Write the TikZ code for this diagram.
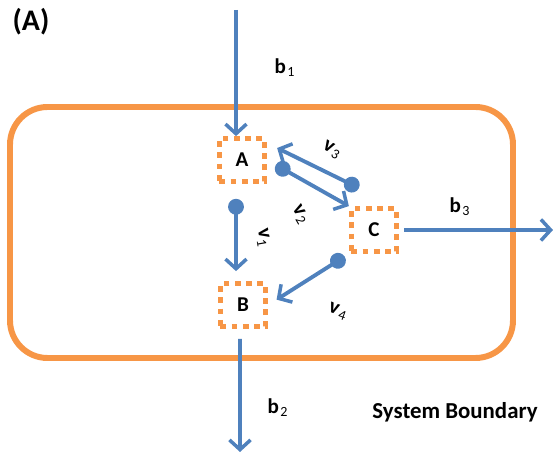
\documentclass[tikz,border=0pt]{standalone}
\usepackage{fontspec}
\setmainfont{Carlito}
\usetikzlibrary{arrows.meta}
\definecolor{jingga}{HTML}{F79646}
\definecolor{biru}{HTML}{4F81BD}
\tikzset{
  kotak/.style={draw=jingga, line width=3pt, dash pattern=on 3.2pt off 3.2pt,
    minimum width=0.9cm, minimum height=0.85cm, font=\bfseries\large},
  batas/.style={-{Straight Barb[length=5.5pt,width=12pt,line width=2pt]}, draw=biru, line width=2.2pt},
  fluks/.style={{Circle[length=9pt]}-{Straight Barb[length=5.5pt,width=12pt,line width=2pt]}, draw=biru, line width=2.2pt},
  lbl/.style={font=\bfseries\large, inner sep=1pt}
}
\newcommand{\sub}[2]{#1\kern0.8pt\textsubscript{\mdseries #2}}
\begin{document}
\begin{tikzpicture}
  \useasboundingbox (0,0) rectangle (11.1,9.18);
  % batas sistem
  \draw[jingga, line width=3.4pt, rounded corners=0.75cm] (0.2,2.02) rectangle (10.26,7.04);
  \node[font=\bfseries\fontsize{17}{20}\selectfont] (judul) at (0.62,8.74) {(A)};
  % metabolit
  \node[kotak] (A) at (4.84,5.98) {A};
  \node[kotak] (B) at (4.86,3.08) {B};
  \node[kotak] (C) at (7.48,4.58) {C};
  \coordinate (masuk) at (4.72,8.98);
  \coordinate (keluar) at (4.8,0.14);
  \coordinate (kanan) at (11.06,4.58);
  % fluks pertukaran
  \draw[batas] (masuk) -- ([xshift=-0.12cm]A.north);
  \draw[batas, shorten <=0.2cm] ([xshift=-0.06cm]B.south) -- (keluar);
  \draw[batas, shorten <=0.1cm] (C.east) -- (kanan);
  % fluks internal
  \draw[fluks, shorten <=0.3cm, shorten >=0.2cm] ([xshift=-0.12cm]A.south) -- ([xshift=-0.14cm]B.north);
  \draw[fluks, shorten <=0.2cm] (A.east) -- (C.north west);
  \draw[fluks] ([shift={(0.2,0.36)}]C.north west) -- ([shift={(0.2,0.24)}]A.east);
  \draw[fluks, shorten <=0.1cm, shorten >=0.2cm] (C.south west) -- (B.east);
  % label
  \node[lbl] (b1) at (5.7,7.82) {\sub{b}{1}};
  \node[lbl] (b2) at (5.56,1.02) {\sub{b}{2}};
  \node[lbl] (b3) at (9.2,5.04) {\sub{b}{3}};
  \node[lbl, rotate=-80] (v1) at (5.26,4.42) {\sub{v}{1}};
  \node[lbl, rotate=-60] (v2) at (6.0,4.88) {\sub{v}{2}};
  \node[lbl, rotate=-30] (v3) at (6.64,6.18) {\sub{v}{3}};
  \node[lbl, rotate=-20] (v4) at (6.76,2.94) {\sub{v}{4}};
  \node[font=\bfseries\fontsize{13}{15}\selectfont] (sb) at (9.1,0.94) {System Boundary};
\end{tikzpicture}
\end{document}
